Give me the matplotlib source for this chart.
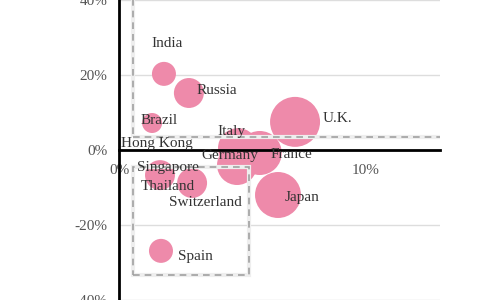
import matplotlib
matplotlib.use('Agg')
import matplotlib.pyplot as plt
from matplotlib.patches import Rectangle
from matplotlib.ticker import FuncFormatter

# country data (x, y in %, size = bubble weight)
countries = ['India', 'Russia', 'Brazil', 'Hong Kong', 'Italy', 'U.K.', 'Germany',
             'France', 'Singapore', 'Thailand', 'Switzerland', 'Japan', 'Spain']
x_vals = [1.82, 2.83, 1.34, -1.0, 4.82, 7.13, 4.78, 5.70, -0.8, 1.66, 2.96, 6.44, 1.70]
y_vals = [20.3, 15.2, 7.2, 2.0, 0.5, 7.5, -4.0, -0.8, -3.0, -6.7, -8.8, -12.0, -26.9]
sizes = [36, 56, 25, 30, 100, 156, 100, 121, 40, 56, 56, 132, 36]

x_ticks = [0, 5, 10]
y_ticks = [-40, -20, 0, 20, 40]

# label offsets from bubble centre, in pixels
label_offsets = {
    'India': (3, 30), 'Russia': (28, 2), 'Brazil': (7, 2), 'Hong Kong': (63, -1.5),
    'Italy': (-7, 17), 'U.K.': (42, 3), 'Germany': (-7, 10), 'France': (32, -1),
    'Singapore': (69, -6), 'Thailand': (8, -11), 'Switzerland': (13, -20),
    'Japan': (24, -2), 'Spain': (34, -6),
}

plt.rcParams['font.family'] = ['Liberation Serif', 'DejaVu Serif']

fig = plt.figure(figsize=(5, 3), dpi=100)
ax = fig.add_axes([0.238, 0.0, 0.642, 1.0])

ax.scatter(x_vals, y_vals, s=[v * 8.3 for v in sizes], color='#ee8aaa',
           linewidths=0, zorder=2)

# highlight boxes
for (x0, y0, w, h) in [(0.57, 3.5, 20, 50), (0.57, -33.3, 4.69, 28.8)]:
    ax.add_patch(Rectangle((x0, y0), w, h, fill=False, ec='#eeeeee', lw=3, zorder=3))
    ax.add_patch(Rectangle((x0, y0), w, h, fill=False, ec='#a0a0a0', lw=1.2,
                           ls=(0, (4, 3)), zorder=3))

for name, x, y in zip(countries, x_vals, y_vals):
    dx, dy = label_offsets[name]
    ax.annotate(name, (x, y), xytext=(dx, dy), textcoords='offset pixels',
                ha='center', va='center', fontsize=11, color='#333333',
                annotation_clip=False, zorder=5)

ax.set_xlim(0, 13)
ax.set_ylim(-40, 40)
ax.set_xticks(x_ticks)
ax.set_yticks(y_ticks)
ax.xaxis.set_major_formatter(FuncFormatter(lambda v, p: f'{v:g}%'))
ax.yaxis.set_major_formatter(FuncFormatter(lambda v, p: f'{v:g}%'))
ax.tick_params(axis='both', length=0, labelsize=11, labelcolor='#555555')
ax.tick_params(axis='y', pad=8.5)
ax.tick_params(axis='x', pad=10)

ax.grid(axis='y', color='#dddddd', lw=1)
ax.set_axisbelow(True)
ax.spines['top'].set_visible(False)
ax.spines['right'].set_visible(False)
ax.spines['bottom'].set_position(('data', 0))
ax.spines['bottom'].set_linewidth(2)
ax.spines['left'].set_linewidth(2)
ax.spines['bottom'].set_zorder(4)

fig.savefig('out.png', dpi=100)
